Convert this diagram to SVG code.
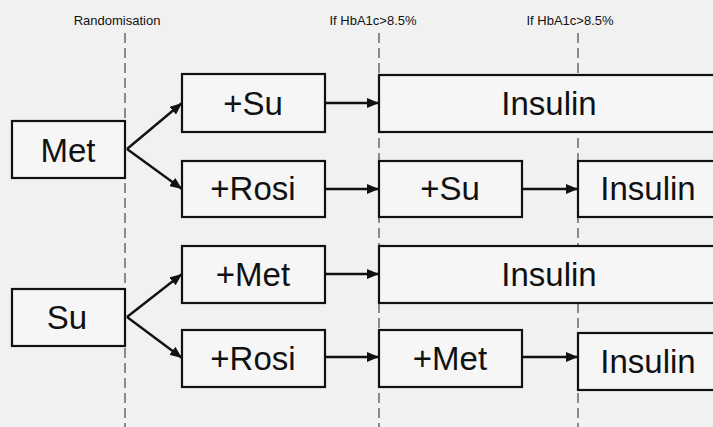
<svg xmlns="http://www.w3.org/2000/svg" width="713" height="427" viewBox="0 0 713 427">
<style>
.dash{stroke:#8a8a8a;stroke-width:2;stroke-dasharray:10 5;fill:none}
.box{fill:#f6f6f6;stroke:#111;stroke-width:2.2}
.lbl{font-family:"Liberation Sans",Arial,sans-serif;font-size:33px;fill:#111;text-anchor:middle}
.hdr{font-family:"Liberation Sans",Arial,sans-serif;font-size:13px;fill:#111;text-anchor:middle}
.arr{stroke:#111;stroke-width:2.4;fill:none;marker-end:url(#ah)}
</style>
<defs>
<marker id="ah" markerUnits="userSpaceOnUse" markerWidth="12" markerHeight="10" refX="12" refY="5" orient="auto">
<path d="M0,0 L12,5 L0,10 Z" fill="#111"/>
</marker>
</defs>
<rect width="713" height="427" fill="#f1f1f1"/>
<g id="headers">
<text class="hdr" x="117" y="25">Randomisation</text>
<text class="hdr" x="373" y="25">If HbA1c&gt;8.5%</text>
<text class="hdr" x="570" y="25">If HbA1c&gt;8.5%</text>
</g>
<g id="dashed-lines">
<line class="dash" x1="125" y1="33" x2="125" y2="427"/>
<line class="dash" x1="379" y1="33" x2="379" y2="427"/>
<line class="dash" x1="578" y1="33" x2="578" y2="427"/>
</g>
<g id="connectors">
<line class="arr" x1="127" y1="149" x2="182" y2="103"/>
<line class="arr" x1="127" y1="149" x2="182" y2="189"/>
<line class="arr" x1="127" y1="317" x2="182" y2="274"/>
<line class="arr" x1="127" y1="317" x2="182" y2="358"/>
<line class="arr" x1="325" y1="103" x2="379" y2="103"/>
<line class="arr" x1="325" y1="189" x2="379" y2="189"/>
<line class="arr" x1="522" y1="189" x2="578" y2="189"/>
<line class="arr" x1="325" y1="274" x2="379" y2="274"/>
<line class="arr" x1="325" y1="357" x2="379" y2="357"/>
<line class="arr" x1="522" y1="357" x2="578" y2="357"/>
</g>
<g id="met"><rect class="box" x="12" y="121" width="113" height="57"/><text class="lbl" x="68" y="162">Met</text></g>
<g id="su"><rect class="box" x="12" y="289" width="113" height="57"/><text class="lbl" x="67" y="329">Su</text></g>
<g id="met-su"><rect class="box" x="182" y="74" width="143" height="58"/><text class="lbl" x="253" y="115">+Su</text></g>
<g id="met-rosi"><rect class="box" x="182" y="161" width="143" height="56"/><text class="lbl" x="253" y="200">+Rosi</text></g>
<g id="su-met"><rect class="box" x="182" y="246" width="143" height="57"/><text class="lbl" x="253" y="286">+Met</text></g>
<g id="su-rosi"><rect class="box" x="182" y="330" width="143" height="57"/><text class="lbl" x="253" y="370">+Rosi</text></g>
<g id="insulin-1"><rect class="box" x="379" y="75" width="345" height="57"/><text class="lbl" x="549" y="115">Insulin</text></g>
<g id="add-su"><rect class="box" x="379" y="161" width="143" height="56"/><text class="lbl" x="450" y="200">+Su</text></g>
<g id="insulin-2"><rect class="box" x="578" y="161" width="146" height="56"/><text class="lbl" x="648" y="200">Insulin</text></g>
<g id="insulin-3"><rect class="box" x="379" y="246" width="345" height="57"/><text class="lbl" x="549" y="286">Insulin</text></g>
<g id="add-met"><rect class="box" x="379" y="330" width="143" height="57"/><text class="lbl" x="450" y="370">+Met</text></g>
<g id="insulin-4"><rect class="box" x="578" y="333" width="146" height="57"/><text class="lbl" x="648" y="373">Insulin</text></g>
</svg>
